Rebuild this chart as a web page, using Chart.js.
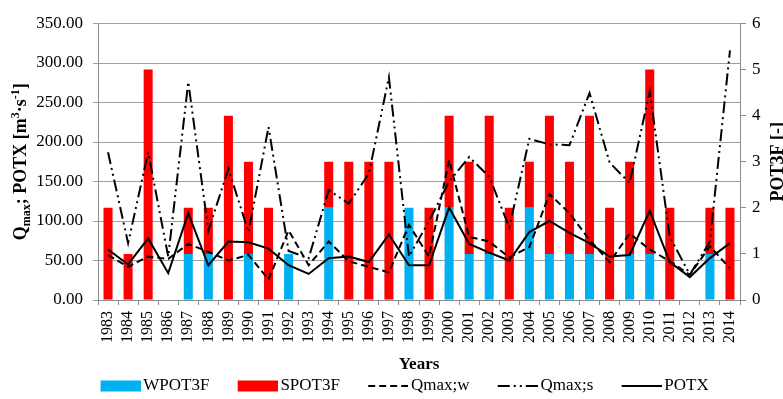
<!DOCTYPE html>
<html><head><meta charset="utf-8">
<script src="https://cdn.jsdelivr.net/npm/chart.js@4"></script>
<style>html,body{margin:0;padding:0;background:#fff}canvas{display:block}</style>
</head><body>
<canvas id="c" width="783" height="399"></canvas>
<script>
const years = ['1983','1984','1985','1986','1987','1988','1989','1990','1991','1992','1993','1994','1995','1996','1997','1998','1999','2000','2001','2002','2003','2004','2005','2006','2007','2008','2009','2010','2011','2012','2013','2014'];
const wpot3f = [0,0,0,0,1,1,0,1,0,1,0,2,0,0,0,2,0,2,1,1,0,2,1,1,1,0,1,1,0,0,1,0];
const spot3f = [2,1,5,0,1,1,4,2,2,0,0,1,3,3,3,0,2,2,2,3,2,1,3,2,3,2,2,4,2,0,1,2];
const qmaxW = [57,42,55,52,71,61,50,57,26,88,44,74,49,42,35,95,55,177,80,74,54,67,134,110,76,48,84,64,49,32,68,40];
const qmaxS = [187,72,187,55,276,88,166,86,219,62,53,139,122,160,282,55,100,150,181,156,92,204,197,196,262,174,148,264,80,32,74,316];
const potx = [64,45,78,34,110,44,74,73,65,44,33,53,55,48,83,44,44,117,71,60,50,86,100,85,72,55,57,113,48,29,53,72];
const seriesLabels = ['WPOT3F','SPOT3F','Qmax;w','Qmax;s','POTX'];
const leftTitleParts = [['Q',''],['max','sub'],['; POTX [m',''],['3','sup'],['\u00B7s',''],['-1','sup'],[']','']];
const rightTitle = 'POT3F [-]';
const xTitle = 'Years';

const FAM = '"Liberation Serif", "Times New Roman", serif';
const gridC = '#a0a0a0';
const axisC = '#8c8c8c';
const blue = '#00B0F0', red = '#FF0000';

function makeSwatch(kind, color, dash, lw) {
  const c = document.createElement('canvas'); c.width = 72; c.height = 12;
  const g = c.getContext('2d');
  if (kind === 'box') { g.fillStyle = color; g.fillRect(32, 0.5, 40, 11); }
  else { g.strokeStyle = color; g.lineWidth = lw; g.setLineDash(dash); g.beginPath(); g.moveTo(32, 6); g.lineTo(72, 6); g.stroke(); }
  return c;
}
const swatches = [
  makeSwatch('box', blue),
  makeSwatch('box', red),
  makeSwatch('line', '#000', [7,4], 2),
  makeSwatch('line', '#000', [12,4,2,4,2,4], 2),
  makeSwatch('line', '#000', [], 2)
];

const titlePlugin = {
  id: 'axisTitles',
  afterDraw(chart) {
    const ctx = chart.ctx, a = chart.chartArea;
    const cy = (a.top + a.bottom) / 2;
    const big = 'bold 18px ' + FAM, small = 'bold 12px ' + FAM;
    ctx.save();
    ctx.fillStyle = '#000';
    ctx.textBaseline = 'alphabetic';
    ctx.translate(20, cy); ctx.rotate(-Math.PI / 2);
    let total = 0;
    leftTitleParts.forEach(p => { ctx.font = p[1] ? small : big; total += ctx.measureText(p[0]).width; });
    let x = -total / 2;
    leftTitleParts.forEach(p => {
      ctx.font = p[1] ? small : big;
      const dy = p[1] === 'sub' ? 4 : (p[1] === 'sup' ? -7 : 0);
      ctx.fillText(p[0], x, 6 + dy);
      x += ctx.measureText(p[0]).width;
    });
    ctx.restore();
    ctx.save();
    ctx.fillStyle = '#000';
    ctx.textBaseline = 'alphabetic';
    ctx.textAlign = 'center';
    ctx.font = big;
    ctx.translate(777, cy); ctx.rotate(-Math.PI / 2);
    ctx.fillText(rightTitle, 0, 6);
    ctx.restore();
  }
};

const tickFont = {family: FAM, size: 17};

new Chart(document.getElementById('c'), {
  data: {
    labels: years,
    datasets: [
      {type: 'bar', label: seriesLabels[0], data: wpot3f, yAxisID: 'y1', backgroundColor: blue, borderWidth: 0, order: 2, barPercentage: 0.5, categoryPercentage: 0.9},
      {type: 'bar', label: seriesLabels[1], data: spot3f, yAxisID: 'y1', backgroundColor: red, borderWidth: 0, order: 2, barPercentage: 0.5, categoryPercentage: 0.9},
      {type: 'line', label: seriesLabels[2], data: qmaxW, yAxisID: 'y', borderColor: '#000', backgroundColor: '#000', borderWidth: 2, borderDash: [7,4], pointRadius: 0, tension: 0, fill: false, order: 1},
      {type: 'line', label: seriesLabels[3], data: qmaxS, yAxisID: 'y', borderColor: '#000', backgroundColor: '#000', borderWidth: 2, borderDash: [12,4,2,4,2,4], pointRadius: 0, tension: 0, fill: false, order: 1},
      {type: 'line', label: seriesLabels[4], data: potx, yAxisID: 'y', borderColor: '#000', backgroundColor: '#000', borderWidth: 2, pointRadius: 0, tension: 0, fill: false, order: 0}
    ]
  },
  options: {
    responsive: false, animation: false, devicePixelRatio: 1,
    layout: {padding: {top: 23.5, left: 0, right: 0, bottom: -5.5}},
    scales: {
      x: {
        stacked: true, offset: true,
        grid: {drawOnChartArea: false, tickLength: 5, color: axisC, offset: true},
        border: {color: axisC},
        ticks: {minRotation: 90, maxRotation: 90, autoSkip: false, padding: 6, color: '#000', font: {family: FAM, size: 16}},
        title: {display: true, text: xTitle, color: '#000', font: {family: FAM, size: 17, weight: 'bold'}, padding: {top: 0, bottom: 1}},
        afterFit(s) { s.height = 75.5; }
      },
      y: {
        position: 'left', min: 0, max: 350,
        ticks: {stepSize: 50, callback: v => Number(v).toFixed(2), padding: 10, color: '#000', font: tickFont},
        grid: {color: gridC, tickLength: 5},
        border: {color: axisC},
        afterFit(s) { s.width = 98; }
      },
      y1: {
        position: 'right', stacked: true, min: 0, max: 6,
        ticks: {stepSize: 1, padding: 6, color: '#000', font: tickFont},
        grid: {drawOnChartArea: false, tickLength: 6, color: axisC},
        border: {color: axisC},
        afterFit(s) { s.width = 43; }
      }
    },
    plugins: {
      legend: {
        position: 'bottom',
        labels: {
          usePointStyle: true, pointStyleWidth: 60.5, boxHeight: 12, padding: 2,
          color: '#000', font: {family: FAM, size: 17},
          generateLabels(chart) {
            const items = Chart.defaults.plugins.legend.labels.generateLabels(chart);
            items.forEach(it => { it.pointStyle = swatches[it.datasetIndex]; });
            return items;
          },
          sort: (a, b) => a.datasetIndex - b.datasetIndex
        }
      },
      tooltip: {enabled: false}
    }
  },
  plugins: [titlePlugin]
});
</script>
</body></html>
